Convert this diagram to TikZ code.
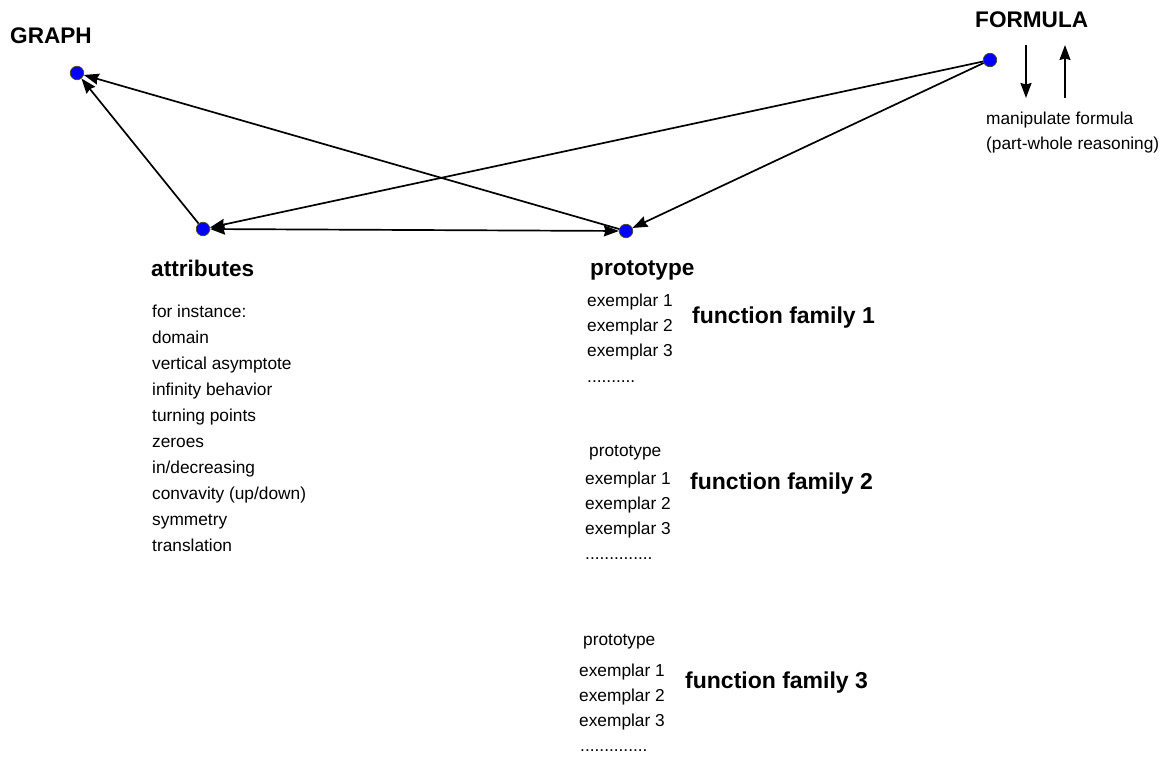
\documentclass[tikz,border=0pt]{standalone}
\usepackage{fontspec}
\setmainfont{Liberation Sans}
\usetikzlibrary{arrows.meta}

\begin{document}
\begin{tikzpicture}[x=1pt, y=-1pt,
    >={Stealth[length=15pt, width=11pt, inset=1.5pt]},
    % Colors
    cblue/.style={fill={rgb,255:red,0;green,0;blue,255}},
    % Styles
    vertex/.style={circle, cblue, draw={rgb,255:red,80;green,70;blue,20}, line width=0.7pt,
                   minimum size=13.5pt, inner sep=0pt},
    head/.style={font=\fontsize{22.6}{26}\selectfont\bfseries, anchor=base west, inner sep=0pt},
    famlbl/.style={font=\fontsize{23}{26}\selectfont\bfseries, anchor=base west, inner sep=0pt},
    lbl/.style={font=\fontsize{17.3}{26}\selectfont, anchor=base west, inner sep=0pt},
    arrow/.style={->, line width=1.7pt},
  ]
  \useasboundingbox (0,0) rectangle (1170,756);

  % Vertices
  \node[vertex] (graph) at (77,73) {};
  \node[vertex] (formula) at (990,60) {};
  \node[vertex] (attr) at (203,229) {};
  \node[vertex] (proto) at (626,231) {};

  % Headings
  \node[head] (graphlbl) at (10,43) {GRAPH};
  \node[head] (formulalbl) at (975,27) {FORMULA};
  \node[head] (attrlbl) at (151,276) {attributes};
  \node[head] (protolbl) at (590,275) {prototype};

  % Formula manipulation
  \coordinate (dtop) at (1026,45);
  \coordinate (dbot) at (1026,98);
  \coordinate (utop) at (1065,45);
  \coordinate (ubot) at (1065,98);
  \draw[arrow] (dtop) -- (dbot);
  \draw[arrow] (ubot) -- (utop);
  \node[lbl] (manip) at (986,124) {manipulate formula};
  \node[lbl] (partwhole) at (986,149) {(part-whole reasoning)};

  % Attribute list
  \foreach \txt [count=\i from 0] in {for instance:, domain, vertical asymptote,
      infinity behavior, turning points, zeroes, in/decreasing,
      convavity (up/down), symmetry, translation}
    \node[lbl] (attr\i) at ({152}, {317+26*\i}) {\txt};

  % Function families
  \foreach \fam/\x/\y in {1/587/306, 2/585/484, 3/579/676}
    \foreach \k in {1,2,3}
      \node[lbl] (ex\fam\k) at ({\x}, {\y+25*(\k-1)}) {exemplar \k};
  \node[lbl] (more1) at (587,382) {..........};
  \node[lbl] (proto2) at (589,456) {prototype};
  \node[lbl] (more2) at (585,559) {..............};
  \node[lbl] (proto3) at (583,645) {prototype};
  \node[lbl] (more3) at (580,751) {..............};
  \node[famlbl] (fam1) at (692,323) {function family 1};
  \node[famlbl] (fam2) at (690,489) {function family 2};
  \node[famlbl] (fam3) at (685,688) {function family 3};

  % Arrows
  \draw[arrow] (attr) -- (graph);
  \draw[arrow] (proto) -- (graph);
  \draw[arrow] (formula) -- (attr);
  \draw[arrow] (formula) -- (proto);
  \draw[arrow, <->] (attr) -- (proto);

\end{tikzpicture}
\end{document}
